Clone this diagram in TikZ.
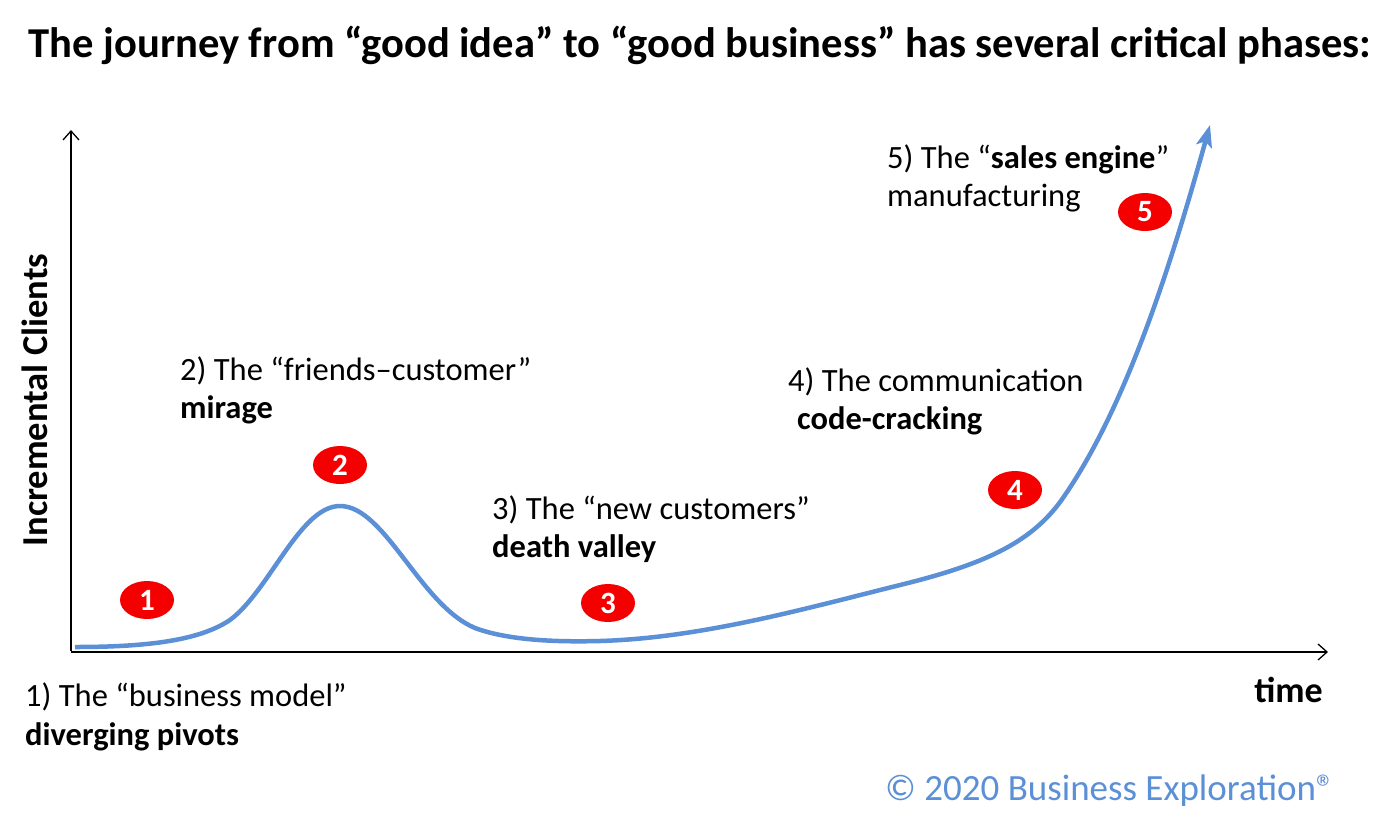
\documentclass[tikz,border=0pt]{standalone}
\usepackage{fontspec}
\setmainfont{Carlito}
\usetikzlibrary{arrows.meta,shapes.geometric}
\definecolor{curveblue}{HTML}{5B8FD6}
\definecolor{badge}{HTML}{F40000}
\tikzset{
  lbl/.style={anchor=base west,inner sep=0pt,font=\fontsize{32.5}{38}\selectfont},
  badgenode/.style={ellipse,fill=badge,text=white,minimum width=54pt,minimum height=38pt,inner sep=0pt,font=\fontsize{31}{34}\selectfont\bfseries},
  axis/.style={line width=1.3pt,-{Straight Barb[length=9pt,width=16pt,line width=1.3pt]}},
}
\begin{document}
\begin{tikzpicture}[x=1pt,y=-1pt]
\useasboundingbox (0,0) rectangle (1400,833);
% title
\node[anchor=base,inner sep=0pt,font=\fontsize{42.6}{48}\selectfont\bfseries] (title) at (700,57) {The journey from “good idea” to “good business” has several critical phases:};
% axes
\coordinate (o) at (71,652);
\coordinate (ytop) at (71,130);
\coordinate (xend) at (1328,652);
\coordinate (ostart) at (71,651);
\draw[axis] (ostart) -- (ytop);
\draw[axis] (o) -- (xend);
\node[rotate=90,anchor=base,inner sep=0pt,font=\fontsize{36.5}{40}\selectfont\bfseries] (ylab) at (47,400) {Incremental Clients};
\node[anchor=base east,inner sep=0pt,font=\fontsize{36}{40}\selectfont\bfseries] (xlab) at (1323,702) {time};
% curve
\coordinate (c0) at (75,647);
\coordinate (c5) at (1210,125);
\draw[curveblue,line width=4.5pt,-{Stealth[length=22pt,width=16pt,inset=5pt]}]
  (c0) .. controls (150,647) and (200,640) .. (230,620)
  .. controls (270,590) and (300,506) .. (340,506)
  .. controls (385,506) and (420,605) .. (475,628)
  .. controls (510,641) and (560,642) .. (600,641)
  .. controls (700,638) and (800,610) .. (900,585)
  .. controls (990,563) and (1035,540) .. (1065,495)
  .. controls (1130,400) and (1175,250) .. (c5);
% badges
\node[badgenode] (b1) at (147,600) {1};
\node[badgenode] (b2) at (340,465) {2};
\node[badgenode] (b3) at (608,603) {3};
\node[badgenode] (b4) at (1015,490) {4};
\node[badgenode] (b5) at (1145,212) {5};
% labels
\node[lbl] (l1a) at (25,706) {1) The “business model”};
\node[lbl] (l1b) at (25,745) {\bfseries diverging pivots};
\node[lbl] (l2a) at (180,380) {2) The “friends–customer”};
\node[lbl] (l2b) at (180,418) {\bfseries mirage};
\node[lbl] (l3a) at (492,519) {3) The “new customers”};
\node[lbl] (l3b) at (492,557) {\bfseries death valley};
\node[lbl] (l4a) at (788,391) {4) The communication};
\node[lbl] (l4b) at (797,429) {\bfseries code-cracking};
\node[lbl] (l5a) at (887,168) {5) The “\textbf{sales engine}”};
\node[lbl] (l5b) at (887,206) {manufacturing};
% copyright
\node[anchor=base west,inner sep=0pt,text=curveblue,font=\fontsize{37}{40}\selectfont] (copy) at (885,800) {© 2020 Business Exploration®};
\end{tikzpicture}
\end{document}
